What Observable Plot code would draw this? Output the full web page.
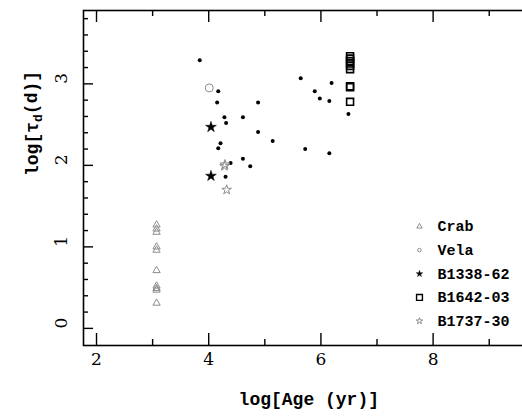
<!DOCTYPE html>
<html><head><meta charset="utf-8">
<script src="https://cdn.jsdelivr.net/npm/d3@7"></script>
<script src="https://cdn.jsdelivr.net/npm/@observablehq/plot@0.6"></script>
<style>
html,body{margin:0;padding:0;background:#fff;overflow:hidden;}
#chart{width:522px;height:418px;overflow:hidden;position:relative;}
#chart svg{max-width:none !important;}
</style></head><body><div id="chart"></div>
<script>
// ---- data (log Age [yr], log tau_d [d]) ----
const pulsarAge = [3.84,4.17,4.15,4.88,4.28,4.31,4.61,4.88,5.14,4.21,4.17,5.72,4.39,4.61,4.74,4.30,5.64,6.19,5.89,5.98,6.15,6.49,6.15];
const pulsarTau = [3.29,2.91,2.77,2.77,2.59,2.52,2.59,2.41,2.30,2.27,2.21,2.20,2.03,2.08,1.99,1.86,3.07,3.01,2.91,2.82,2.79,2.63,2.15];
const crabAge = [3.07,3.07,3.07,3.07,3.07,3.07,3.07,3.07,3.07,3.07];
const crabTau = [1.27,1.22,1.18,1.00,0.96,0.71,0.52,0.49,0.47,0.31];
const velaAge = [4.01];
const velaTau = [2.95];
const b1338Age = [4.04,4.04];
const b1338Tau = [2.47,1.87];
const b1642Age = [6.52,6.52,6.52,6.52,6.52,6.52,6.52,6.52,6.52];
const b1642Tau = [3.34,3.31,3.28,3.25,3.22,3.18,2.97,2.96,2.78];
const b1737Age = [4.28,4.29,4.32];
const b1737Tau = [1.99,2.01,1.70];
const xMajor = [2,4,6,8];
const xMinor = [3,5,7,9];
const yMajor = [0,1,2,3];
const yMinor = [0.2,0.4,0.6,0.8,1.2,1.4,1.6,1.8,2.2,2.4,2.6,2.8,3.2,3.4,3.6,3.8];
const legendNames = ["Crab","Vela","B1338-62","B1642-03","B1737-30"];

const pts = (xs, ys) => xs.map((x, i) => ({x, y: ys[i]}));

const styles = {
  "Crab":     {symbol:"triangle", stroke:"#8c8c8c", fill:"none", strokeWidth:1, r:2.7, lr:2.0},
  "Vela":     {symbol:"circle",   stroke:"#8c8c8c", fill:"none", strokeWidth:1, r:4,   lr:1.8},
  "B1338-62": {symbol:"star",     stroke:"black",   fill:"black", strokeWidth:0.5, r:3.4, lr:2.0},
  "B1642-03": {symbol:"square",   stroke:"black",   fill:"none", strokeWidth:1.6, r:3.9, lr:3.3},
  "B1737-30": {symbol:"star",     stroke:"#8c8c8c", fill:"none", strokeWidth:1, r:3.0, lr:2.0}
};
const series = {
  "Crab": pts(crabAge, crabTau),
  "Vela": pts(velaAge, velaTau),
  "B1338-62": pts(b1338Age, b1338Tau),
  "B1642-03": pts(b1642Age, b1642Tau),
  "B1737-30": pts(b1737Age, b1737Tau)
};

const W = 560, H = 418, mT = 10, mB = 73, mL = 83, mR = 26.4;
const fh = H - mT - mB, fw = W - mL - mR;
const numFont = "DejaVu Serif";
const txtFont = "Liberation Mono";

const legendRows = legendNames.map((name, i) => ({name, x: 7.757, tx: 8.078, y: 1.25 - i * 0.29}));

const marks = [
  // ticks (inward)
  Plot.ruleX(xMajor, {x: d => d, insetTop: fh - 12, stroke: "black", strokeWidth: 1.4}),
  Plot.ruleX(xMinor, {x: d => d, insetTop: fh - 6, stroke: "black", strokeWidth: 1.4}),
  Plot.ruleX(xMajor, {x: d => d, insetBottom: fh - 12, stroke: "black", strokeWidth: 1.4}),
  Plot.ruleX(xMinor, {x: d => d, insetBottom: fh - 6, stroke: "black", strokeWidth: 1.4}),
  Plot.ruleY(yMajor, {y: d => d, insetRight: fw - 10, stroke: "black", strokeWidth: 1.4}),
  Plot.ruleY(yMinor, {y: d => d, insetRight: fw - 5, stroke: "black", strokeWidth: 1.4}),
  Plot.frame({stroke: "black", strokeWidth: 1.6}),
  // tick labels
  Plot.text(xMajor, {x: d => d, text: d => String(d), frameAnchor: "bottom", dy: 19.5, fontSize: 17, fontFamily: numFont, fill: "black"}),
  Plot.text(yMajor, {y: d => d, text: d => String(d), frameAnchor: "left", dx: -22, rotate: -90, fontSize: 17, fontFamily: numFont, fill: "black"}),
  // axis titles
  Plot.text(["log[Age (yr)]"], {text: d => d, frameAnchor: "bottom", dy: 59, fontSize: 18, fontWeight: "bold", fontFamily: txtFont, fill: "black"}),
  Plot.text(["log[τd(d)]"], {text: d => d, frameAnchor: "left", dx: -51, dy: -2, rotate: -90, fontSize: 18, fontWeight: "bold", fontFamily: txtFont, fill: "black", className: "ytitle"}),
  // data
  Plot.dot(pts(pulsarAge, pulsarTau), {x: "x", y: "y", r: 2, fill: "black", stroke: "none"}),
  ...legendNames.map(name => {
    const s = styles[name];
    return Plot.dot(series[name], {x: "x", y: "y", symbol: s.symbol, r: s.r, fill: s.fill, stroke: s.stroke, strokeWidth: s.strokeWidth});
  }),
  // legend
  ...legendNames.map((name, i) => {
    const s = styles[name];
    return Plot.dot([legendRows[i]], {x: "x", y: "y", symbol: s.symbol, r: s.lr, fill: s.fill, stroke: s.stroke, strokeWidth: Math.min(s.strokeWidth, 1.4)});
  }),
  Plot.text(legendRows, {x: "tx", y: "y", text: "name", textAnchor: "start", fontSize: 15, fontWeight: "bold", fontFamily: txtFont, fill: "black"})
];

const chart = Plot.plot({
  width: W, height: H,
  marginTop: mT, marginBottom: mB, marginLeft: mL, marginRight: mR,
  x: {domain: [1.768, 9.8], axis: null},
  y: {domain: [-0.21, 3.9], axis: null},
  style: {background: "white", overflow: "visible", maxWidth: "none"},
  marks
});

// subscript d in the y title
const yt = d3.select(chart).select("g.ytitle text");
if (!yt.empty()) {
  yt.text(null);
  yt.append("tspan").text("log[τ");
  yt.append("tspan").attr("dy", "0.3em").attr("font-size", "13").text("d");
  yt.append("tspan").attr("dy", "-0.3em").text("(d)]");
}
document.getElementById("chart").appendChild(chart);
</script>
</body></html>
